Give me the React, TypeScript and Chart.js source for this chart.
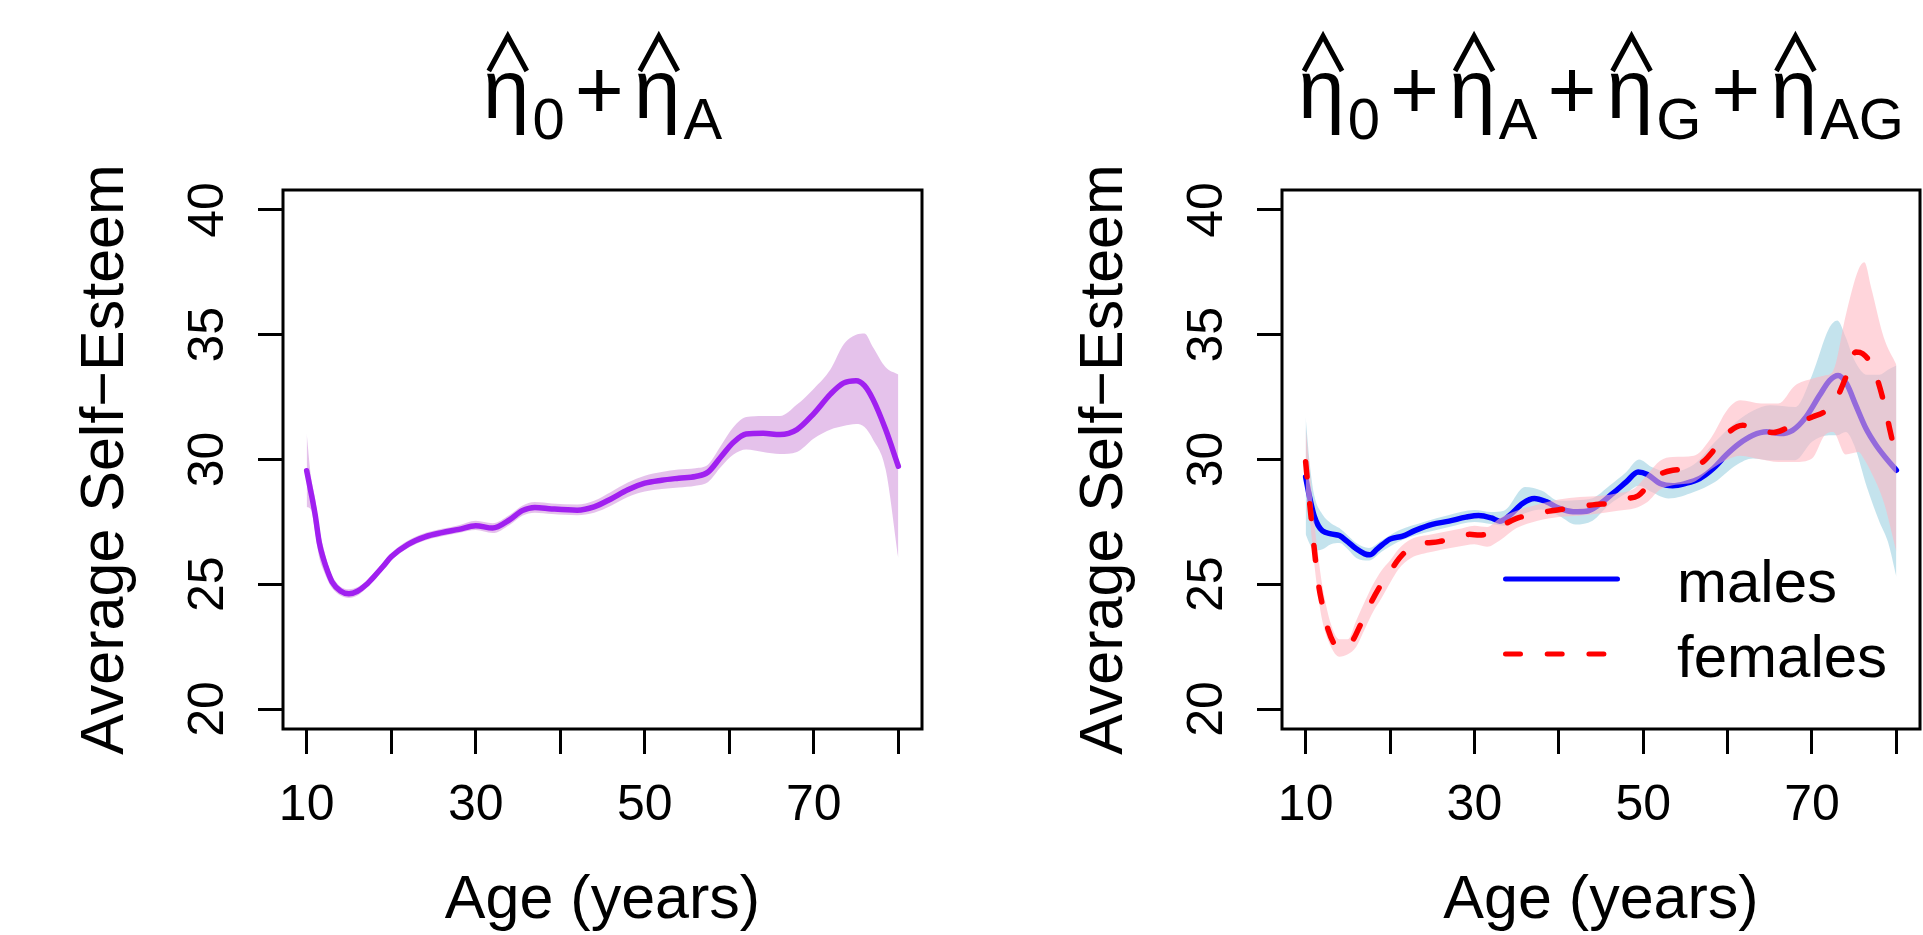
import React, { useEffect, useRef } from "react";
import { Chart, registerables } from "chart.js";

Chart.register(...registerables);

// ---------------- axes ----------------
const xTickValues = [10, 20, 30, 40, 50, 60, 70, 80];
const xLabelValues = [10, 30, 50, 70];
const yTickValues = [20, 25, 30, 35, 40];
const xRange = [7.2, 82.8];
const yRange = [19.2, 40.8];
const xTitle = "Age (years)";
const yTitle = "Average Self\u2212Esteem";
const legendLabels = ["males", "females"];

// ---------------- left panel: eta0 + etaA ----------------
const ageAll = [10, 10.5, 11, 11.5, 12, 12.5, 13, 14, 15, 16, 17, 18, 19, 20, 22, 24, 26, 28, 30, 32, 34, 35.5, 37, 39, 42, 44, 46, 48, 50, 52, 54, 56, 57.5, 59, 60.5, 62, 64, 66, 68, 70, 72, 73.5, 75, 76, 77, 78.5, 80];
const meanAll = [29.55, 28.7, 27.8, 26.65, 26.0, 25.5, 25.1, 24.73, 24.62, 24.72, 24.97, 25.32, 25.7, 26.1, 26.6, 26.9, 27.07, 27.2, 27.35, 27.25, 27.58, 27.95, 28.08, 28.02, 27.97, 28.1, 28.42, 28.79, 29.05, 29.17, 29.25, 29.32, 29.5, 30.1, 30.69, 31.02, 31.05, 31.0, 31.2, 31.84, 32.63, 33.06, 33.16, 32.96, 32.41, 31.2, 29.73];
const upperAll = [31.05, 29.35, 28.45, 27.2, 26.45, 25.8, 25.35, 24.9, 24.8, 24.88, 25.12, 25.47, 25.85, 26.25, 26.75, 27.05, 27.22, 27.37, 27.55, 27.45, 27.78, 28.15, 28.3, 28.24, 28.2, 28.35, 28.7, 29.08, 29.35, 29.5, 29.6, 29.65, 29.8, 30.55, 31.3, 31.7, 31.74, 31.74, 32.2, 32.84, 33.63, 34.6, 35.0, 35.05, 34.5, 33.7, 33.41];
const lowerAll = [28.1, 28.0, 27.1, 26.05, 25.55, 25.15, 24.85, 24.55, 24.45, 24.55, 24.82, 25.17, 25.55, 25.95, 26.45, 26.75, 26.92, 27.05, 27.17, 27.05, 27.38, 27.75, 27.87, 27.82, 27.77, 27.87, 28.15, 28.5, 28.72, 28.82, 28.88, 28.95, 29.1, 29.7, 30.2, 30.4, 30.3, 30.22, 30.3, 30.84, 31.2, 31.34, 31.42, 31.3, 30.8, 29.6, 26.04];

// ---------------- right panel: males ----------------
const ageMale = [10, 10.5, 11, 11.5, 12, 13, 14, 15, 16, 17, 17.6, 18.5, 20, 21.5, 23, 25, 27, 29, 30.5, 32, 33, 34.2, 35.7, 37.1, 38.5, 40, 41.7, 43.3, 44.8, 46.4, 48, 49.4, 50.5, 52, 53.5, 55, 56.7, 58.3, 59.8, 61.4, 63, 64.6, 66.2, 67.7, 69.3, 70.9, 72.1, 73.1, 74.1, 75.2, 76.4, 77.6, 78.8, 80];
const meanMale = [29.3, 28.44, 27.75, 27.35, 27.14, 27.02, 26.95, 26.7, 26.42, 26.22, 26.18, 26.42, 26.81, 26.93, 27.16, 27.4, 27.53, 27.69, 27.76, 27.66, 27.53, 27.77, 28.24, 28.44, 28.31, 28.05, 27.91, 27.93, 28.2, 28.64, 29.1, 29.5, 29.4, 29.04, 28.95, 29.04, 29.24, 29.64, 30.17, 30.64, 30.97, 31.11, 31.04, 31.17, 31.71, 32.57, 33.17, 33.37, 33.04, 32.17, 31.24, 30.57, 30.04, 29.57];
const bandAgeMale = [10, 10.5, 11, 12, 13, 14, 15, 16, 17.5, 19, 21, 24, 27, 30, 32, 33.5, 36, 38, 40, 42, 44, 46, 48, 49.5, 51, 53, 56, 58.5, 61, 63, 65, 68, 70, 72, 73, 74, 75, 76.5, 78, 79, 80];
const upperMale = [31.7, 29.8, 28.6, 27.8, 27.45, 27.25, 26.95, 26.65, 26.45, 26.75, 27.15, 27.5, 27.78, 27.98, 27.9, 27.95, 28.9, 28.75, 28.35, 28.37, 28.45, 28.95, 29.5, 30.0, 29.7, 29.5, 29.8, 30.7, 31.5, 31.95, 32.17, 32.1, 33.37, 35.24, 35.57, 34.9, 34.0, 33.4, 33.4, 33.6, 33.77];
const lowerMale = [27.0, 26.6, 26.35, 26.4, 26.6, 26.65, 26.4, 26.05, 25.95, 26.3, 26.7, 27.05, 27.3, 27.5, 27.42, 27.35, 27.85, 28.0, 27.75, 27.4, 27.55, 28.2, 28.65, 28.95, 28.7, 28.44, 28.7, 29.1, 29.77, 30.04, 29.97, 29.97, 30.71, 30.97, 30.97, 31.1, 30.57, 28.9, 27.5, 26.7, 25.3];

// ---------------- right panel: females ----------------
const ageFemale = [10, 10.3, 10.7, 11.1, 11.5, 12.1, 12.7, 13.5, 14.5, 15.5, 16.4, 17.6, 18.8, 20, 21.1, 22.3, 23.9, 25.8, 27.8, 29.4, 30.6, 32.2, 33.4, 35, 36.5, 38.5, 40.5, 42.5, 44.4, 46.2, 47.8, 49.4, 51.5, 53.5, 55.5, 57.1, 58.7, 60.2, 61.8, 63.8, 65.4, 66.9, 68.5, 70.1, 71.7, 72.9, 74.1, 75.2, 76, 77.2, 78.4, 79.2, 80];
const meanFemale = [29.91, 28.84, 27.51, 26.17, 25.05, 24.0, 23.15, 22.57, 22.44, 22.71, 23.31, 24.17, 24.91, 25.51, 26.04, 26.44, 26.63, 26.71, 26.87, 27.0, 26.97, 27.11, 27.37, 27.64, 27.77, 27.91, 28.01, 28.11, 28.2, 28.25, 28.42, 28.55, 29.31, 29.57, 29.64, 29.91, 30.51, 31.11, 31.37, 31.17, 31.08, 31.24, 31.51, 31.71, 31.97, 32.44, 33.37, 34.31, 34.24, 33.71, 32.44, 31.24, 30.04];
const bandAgeFemale = [10, 10.5, 11, 11.5, 12, 13, 14, 15, 16, 17, 18, 19, 20, 21, 22.5, 25, 28, 30, 31.5, 33, 35, 37.5, 40, 42.5, 45, 47, 49, 50.5, 52, 53.5, 56, 58, 60, 61.5, 64, 66, 68, 70, 71.5, 72.5, 74, 75.5, 76.2, 77, 78.5, 80];
const upperFemale = [31.3, 29.5, 27.6, 26.1, 24.9, 23.4, 22.8, 22.8, 23.55, 24.3, 25.0, 25.55, 25.95, 26.4, 26.8, 27.0, 27.2, 27.35, 27.3, 27.65, 27.95, 28.2, 28.4, 28.5, 28.55, 28.65, 28.85, 29.4, 29.95, 30.1, 30.15, 30.84, 32.0, 32.37, 32.24, 32.24, 32.97, 33.24, 33.37, 33.55, 35.77, 37.6, 37.9, 36.9, 34.9, 33.8];
const lowerFemale = [28.8, 27.6, 25.9, 24.5, 23.5, 22.5, 22.1, 22.2, 22.5, 23.2, 23.9, 24.45, 25.05, 25.6, 26.05, 26.3, 26.5, 26.6, 26.5, 26.75, 27.25, 27.55, 27.7, 27.75, 27.85, 27.95, 28.05, 28.3, 28.8, 28.97, 29.1, 29.6, 30.0, 30.15, 30.0, 29.9, 29.9, 30.04, 30.97, 31.1, 30.2, 30.3, 30.0, 29.5, 28.3, 26.3];

// ---------------- titles ----------------
type Piece = { t: string; hat?: boolean; sub?: boolean };
const titleLeft: Piece[] = [
  { t: "\u03B7", hat: true }, { t: "0", sub: true }, { t: "+" },
  { t: "\u03B7", hat: true }, { t: "A", sub: true },
];
const titleRight: Piece[] = [
  { t: "\u03B7", hat: true }, { t: "0", sub: true }, { t: "+" },
  { t: "\u03B7", hat: true }, { t: "A", sub: true }, { t: "+" },
  { t: "\u03B7", hat: true }, { t: "G", sub: true }, { t: "+" },
  { t: "\u03B7", hat: true }, { t: "AG", sub: true },
];

const FONT = "'Liberation Sans', Arial, Helvetica, sans-serif";
const H = 935;

const pts = (xs: number[], ys: number[]) => xs.map((x, i) => ({ x, y: ys[i] }));

function bandDs(xs: number[], ys: number[], order: number, fill: any, color: string) {
  return {
    data: pts(xs, ys),
    order,
    fill,
    backgroundColor: color,
    borderColor: "rgba(0,0,0,0)",
    borderWidth: 0,
    pointRadius: 0,
    cubicInterpolationMode: "monotone",
    tension: 0.4,
  };
}

function lineDs(xs: number[], ys: number[], order: number, color: string, dash: number[]) {
  return {
    data: pts(xs, ys),
    order,
    fill: false,
    borderColor: color,
    borderWidth: 5.5,
    borderDash: dash,
    borderCapStyle: "round",
    borderJoinStyle: "round",
    pointRadius: 0,
    cubicInterpolationMode: "monotone",
    tension: 0.4,
  };
}

function drawTitle(ctx: CanvasRenderingContext2D, pieces: Piece[], cx: number, base: number) {
  const main = `84px ${FONT}`;
  const sub = `58px ${FONT}`;
  const GAP_OP = 10;
  const GAP_SUB = 3;
  const items = pieces.map((p) => {
    ctx.font = p.sub ? sub : main;
    const w = ctx.measureText(p.t).width;
    const pre = p.t === "+" ? GAP_OP : p.sub ? GAP_SUB : 0;
    const post = p.t === "+" ? GAP_OP : 0;
    return { ...p, w, pre, post };
  });
  const total = items.reduce((s, it) => s + it.pre + it.w + it.post, 0);
  let x = cx - total / 2;
  ctx.textAlign = "left";
  ctx.textBaseline = "alphabetic";
  for (const it of items) {
    x += it.pre;
    ctx.font = it.sub ? sub : main;
    ctx.fillText(it.t, x, it.sub ? base + 21 : base);
    if (it.hat) {
      const m = ctx.measureText(it.t);
      const inkL = x - m.actualBoundingBoxLeft;
      const inkR = x + m.actualBoundingBoxRight;
      const c = (inkL + inkR) / 2 + 2;
      ctx.save();
      ctx.lineWidth = 5;
      ctx.lineJoin = "miter";
      ctx.strokeStyle = "#000";
      ctx.beginPath();
      ctx.moveTo(c - 19, base - 47);
      ctx.lineTo(c, base - 82);
      ctx.lineTo(c + 19, base - 47);
      ctx.stroke();
      ctx.restore();
    }
    x += it.w + it.post;
  }
}

function makeTextPlugin(title: Piece[], legend: boolean) {
  return {
    id: "rstyle",
    afterDraw(chart: any) {
      const { ctx, chartArea: a, scales } = chart;
      ctx.save();
      ctx.strokeStyle = "#000";
      ctx.lineWidth = 3;
      ctx.strokeRect(a.left, a.top, a.right - a.left, a.bottom - a.top);
      ctx.fillStyle = "#000";
      ctx.textBaseline = "alphabetic";
      ctx.textAlign = "center";
      ctx.font = `50px ${FONT}`;
      for (const v of xLabelValues) {
        ctx.fillText(String(v), scales.x.getPixelForValue(v), a.bottom + 91);
      }
      for (const v of yTickValues) {
        ctx.save();
        ctx.translate(a.left - 60, scales.y.getPixelForValue(v));
        ctx.rotate(-Math.PI / 2);
        ctx.fillText(String(v), 0, 0);
        ctx.restore();
      }
      ctx.font = `61px ${FONT}`;
      ctx.fillText(xTitle, (a.left + a.right) / 2, a.bottom + 189);
      ctx.save();
      ctx.translate(a.left - 160, (a.top + a.bottom) / 2);
      ctx.rotate(-Math.PI / 2);
      ctx.fillText(yTitle, 0, 0);
      ctx.restore();
      drawTitle(ctx, title, (a.left + a.right) / 2, a.top - 72);
      if (legend) {
        ctx.lineWidth = 5;
        ctx.lineCap = "round";
        ctx.strokeStyle = "#0000FF";
        ctx.beginPath();
        ctx.moveTo(a.right - 414.5, a.bottom - 150);
        ctx.lineTo(a.right - 302.5, a.bottom - 150);
        ctx.stroke();
        ctx.strokeStyle = "#FF0000";
        ctx.setLineDash([15, 26.7]);
        ctx.beginPath();
        ctx.moveTo(a.right - 414.5, a.bottom - 75);
        ctx.lineTo(a.right - 312, a.bottom - 75);
        ctx.stroke();
        ctx.setLineDash([]);
        ctx.font = `60px ${FONT}`;
        ctx.textAlign = "left";
        ctx.fillText(legendLabels[0], a.right - 243, a.bottom - 127);
        ctx.fillText(legendLabels[1], a.right - 243, a.bottom - 52);
      }
      ctx.restore();
    },
  };
}

function makeScales() {
  const grid = { drawOnChartArea: false, drawTicks: true, tickLength: 25, lineWidth: 3, color: "#000" };
  return {
    x: {
      type: "linear",
      min: xRange[0],
      max: xRange[1],
      afterBuildTicks: (s: any) => { s.ticks = xTickValues.map((v) => ({ value: v })); },
      afterFit: (s: any) => { s.height = 206; },
      ticks: { display: false },
      grid,
      border: { display: false },
    },
    y: {
      type: "linear",
      min: yRange[0],
      max: yRange[1],
      afterBuildTicks: (s: any) => { s.ticks = yTickValues.map((v) => ({ value: v })); },
      afterFit: (s: any) => { s.width = 283; },
      ticks: { display: false },
      grid,
      border: { display: false },
    },
  };
}

function baseOptions(padRight: number) {
  return {
    responsive: false,
    animation: false,
    events: [],
    devicePixelRatio: 1,
    layout: { padding: { top: 190, right: padRight, bottom: 0, left: 0 } },
    plugins: { legend: { display: false }, tooltip: { enabled: false }, title: { display: false } },
    scales: makeScales(),
  };
}

function leftConfig(): any {
  return {
    type: "line",
    data: {
      datasets: [
        bandDs(ageAll, lowerAll, 3, false, "rgba(0,0,0,0)"),
        bandDs(ageAll, upperAll, 2, "-1", "rgba(210,150,220,0.58)"),
        lineDs(ageAll, meanAll, 1, "#A020F0", []),
      ],
    },
    options: baseOptions(77),
    plugins: [makeTextPlugin(titleLeft, false)],
  };
}

function rightConfig(): any {
  return {
    type: "line",
    data: {
      datasets: [
        bandDs(bandAgeMale, lowerMale, 60, false, "rgba(0,0,0,0)"),
        bandDs(bandAgeMale, upperMale, 50, "-1", "rgba(173,216,230,0.72)"),
        lineDs(ageMale, meanMale, 40, "#0000FF", []),
        bandDs(bandAgeFemale, lowerFemale, 30, false, "rgba(0,0,0,0)"),
        bandDs(bandAgeFemale, upperFemale, 20, "-1", "rgba(255,182,193,0.58)"),
        lineDs(ageFemale, meanFemale, 10, "#FF0000", [15, 27]),
      ],
    },
    options: baseOptions(3),
    plugins: [makeTextPlugin(titleRight, true)],
  };
}

function Panel({ make, left, width }: { make: () => any; left: number; width: number }) {
  const ref = useRef<HTMLCanvasElement | null>(null);
  useEffect(() => {
    if (!ref.current) return;
    const chart = new Chart(ref.current, make());
    return () => chart.destroy();
  }, []);
  return (
    <canvas
      ref={ref}
      width={width}
      height={H}
      style={{ position: "absolute", left, top: 0, width, height: H, display: "block" }}
    />
  );
}

export default function App() {
  return (
    <div style={{ position: "absolute", left: 0, top: 0, width: 1923, height: H, background: "#fff", overflow: "hidden" }}>
      <Panel make={leftConfig} left={0} width={999} />
      <Panel make={rightConfig} left={999} width={924} />
    </div>
  );
}
